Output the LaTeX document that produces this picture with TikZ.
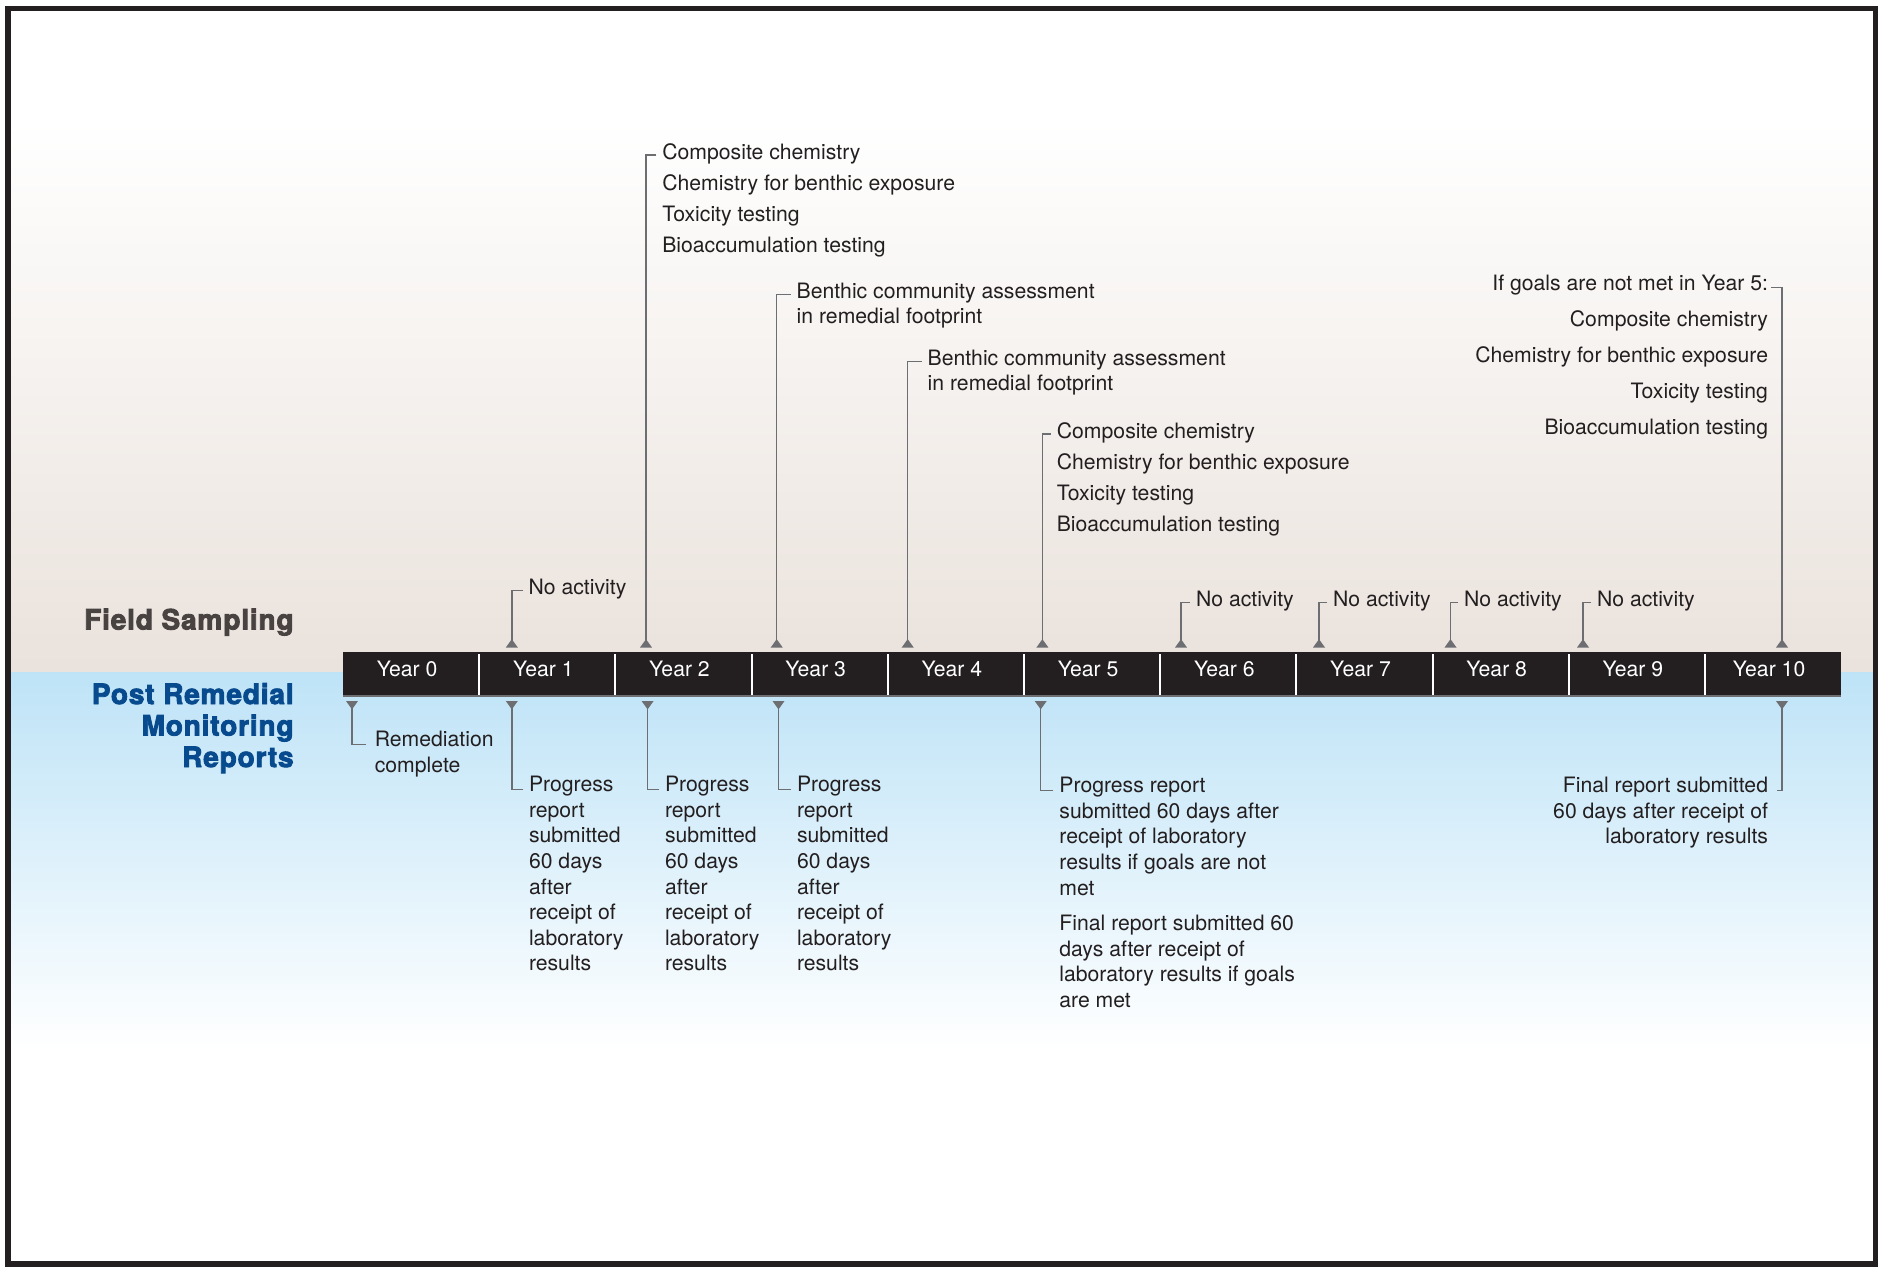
\documentclass[tikz,border=0pt]{standalone}
\usepackage{fontspec}
\setmainfont{TeX Gyre Heros}
\newfontfamily\heavyfont[FakeBold=3, LetterSpace=3]{TeX Gyre Heros}
\usetikzlibrary{arrows.meta,calc}
\definecolor{ink}{HTML}{231F20}
\definecolor{linegray}{HTML}{6D6E71}
\definecolor{beige}{HTML}{EAE2DC}
\definecolor{skyblue}{HTML}{BEE3F7}
\definecolor{fieldgray}{HTML}{484340}
\definecolor{postblue}{HTML}{074B8E}
\begin{document}
\begin{tikzpicture}[x=0.5pt,y=-0.5pt,
  lbl/.style={inner sep=0pt, outer sep=0pt, text=ink, align=left, anchor=base west, font=\fontsize{10.6}{12.8}\selectfont},
  lblr/.style={lbl, align=right, anchor=base east},
  listA/.style={font=\fontsize{10.6}{15.5}\selectfont},
  listB/.style={font=\fontsize{10.6}{18.1}\selectfont},
  yearlbl/.style={inner sep=0pt, text=white, anchor=base, font=\fontsize{10.6}{12.8}\selectfont},
  leader/.style={draw=linegray, line width=0.75pt, -{Triangle[reversed, width=5.8pt, length=4.2pt]}},
  rowhead/.style={inner sep=0pt, align=right, anchor=base east, font=\heavyfont\bfseries\fontsize{14}{15.75}\selectfont}
]
\useasboundingbox (0,0) rectangle (1883,1266);
% background
\fill[white] (0,0) rectangle (1883,1266);
\shade[top color=white, bottom color=beige] (8,120) rectangle (1875,672);
\shade[top color=skyblue, bottom color=white] (8,672) rectangle (1875,1050);
% frame
\draw[ink, line width=2.75pt] (8,8.3) rectangle (1875.5,1264);

% timeline bar
\fill[ink] (343,652) rectangle (1841,696);
\draw[linegray, line width=0.8pt] (343,696) -- (1841,696);
\foreach \i in {1,...,10} {
  \draw[white, line width=1pt] ({343+136.2*\i},654) -- ({343+136.2*\i},695);
}
\foreach \i in {0,...,10} {
  \node[yearlbl] (y\i) at ({339+136.2*(\i+0.5)},676) {Year \i};
}

% row headings
\node[rowhead, text=fieldgray] (fs) at (294,629.5) {Field Sampling};
\node[rowhead, text=postblue] (pr) at (294,767) {Post Remedial\\Monitoring\\Reports};

% arrow coordinates (top)
\coordinate (u1) at (511.8,647.5);
\coordinate (u2) at (646,647.5);
\coordinate (u3) at (776.7,647.5);
\coordinate (u4) at (907.7,647.5);
\coordinate (u5) at (1042.4,647.5);
\coordinate (u6) at (1181,647.5);
\coordinate (u7) at (1319,647.5);
\coordinate (u8) at (1450.5,647.5);
\coordinate (u9) at (1583,647.5);
\coordinate (u10) at (1782,647.5);
% arrow coordinates (bottom)
\coordinate (d0) at (352,701);
\coordinate (d1) at (511.8,701);
\coordinate (d2) at (647.6,701);
\coordinate (d3) at (778.5,701);
\coordinate (d5) at (1040.7,701);
\coordinate (d10) at (1782,701);

% field sampling texts (anchored at the baseline of their last line)
\node[lbl] (t1) at (528.6,594) {No activity};
\node[lbl, listA] (t2) at (662.3,252.3) {Composite chemistry\\Chemistry for benthic exposure\\Toxicity testing\\Bioaccumulation testing};
\node[lbl] (t3) at (796.7,323.9) {Benthic community assessment\\in remedial footprint};
\node[lbl] (t4) at (927.7,390.6) {Benthic community assessment\\in remedial footprint};
\node[lbl, listA] (t5) at (1056.8,531) {Composite chemistry\\Chemistry for benthic exposure\\Toxicity testing\\Bioaccumulation testing};
\node[lbl] (t6) at (1196,606) {No activity};
\node[lbl] (t7) at (1333,606) {No activity};
\node[lbl] (t8) at (1464,606) {No activity};
\node[lbl] (t9) at (1597,606) {No activity};
\node[lblr, listB] (t10) at (1768,434.8) {If goals are not met in Year 5:\\Composite chemistry\\Chemistry for benthic exposure\\Toxicity testing\\Bioaccumulation testing};

% reports texts
\node[lbl] (b0) at (374.8,772.3) {Remediation\\complete};
\node[lbl] (b1) at (529,970.9) {Progress\\report\\submitted\\60 days\\after\\receipt of\\laboratory\\results};
\node[lbl] (b2) at (665,970.9) {Progress\\report\\submitted\\60 days\\after\\receipt of\\laboratory\\results};
\node[lbl] (b3) at (797,970.9) {Progress\\report\\submitted\\60 days\\after\\receipt of\\laboratory\\results};
\node[lbl] (b5) at (1059.4,895.1) {Progress report\\submitted 60 days after\\receipt of laboratory\\results if goals are not\\met};
\node[lbl] (b5f) at (1059.4,1007.5) {Final report submitted 60\\days after receipt of\\laboratory results if goals\\are met};
\node[lblr] (b10) at (1768,843.9) {Final report submitted\\60 days after receipt of\\laboratory results};

% leaders (top)
\foreach \n in {1,...,9} {
  \draw[leader] ($(t\n.north west)+(-6,11.7)$) -| (u\n);
}
\draw[leader] ($(t10.north east)+(3,13)$) -| (u10);
% leaders (bottom)
\draw[leader] ($(b0.north west)+(-9,13.2)$) -| (d0);
\foreach \n in {1,2,3,5} {
  \draw[leader] ($(b\n.north west)+(-6,13.2)$) -| (d\n);
}
\draw[leader] ($(b10.north east)+(9,13.2)$) -| (d10);
\end{tikzpicture}
\end{document}
